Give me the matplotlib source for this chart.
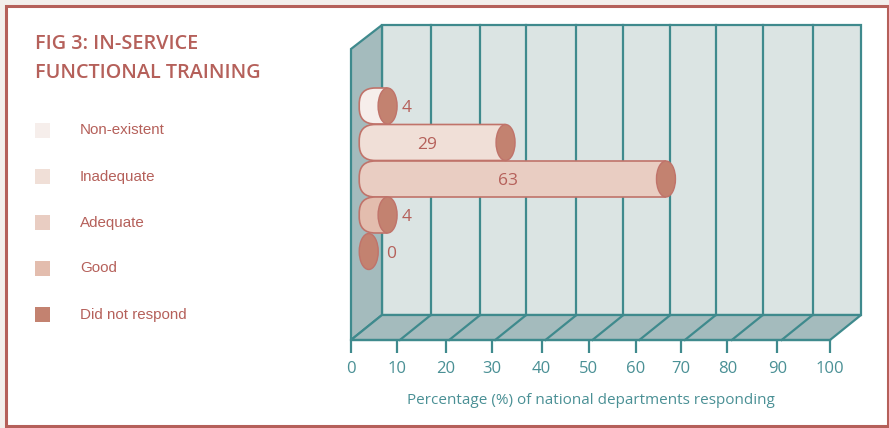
import matplotlib.pyplot as plt
from matplotlib.patches import Polygon, Ellipse, Rectangle, PathPatch
from matplotlib.path import Path

W, H = 889, 428

# Responses, in the order they stack from the back wall down
categories = ['Non-existent', 'Inadequate', 'Adequate', 'Good', 'Did not respond']
percentages = [4, 29, 63, 4, 0]
value_labels = ['4', '29', '63', '4', '0']
bar_colors = ['#f6eeeb', '#f0dfd7', '#e9cdc2', '#e3bdae', '#c38270']
label_gap = [0.9, 0, 0, 0.9, 1.7]

tick_labels = ['0', '10', '20', '30', '40', '50', '60', '70', '80', '90', '100']
tick_pos = [0, 9.6, 19.8, 29.4, 39.8, 49.6, 59.5, 68.9, 78.6, 89.0, 100]
grid_pos = [10.2, 20.5, 30.1, 40.6, 50.4, 60.2, 69.7, 79.5, 89.9]

RED = '#b5605a'
BAR_EDGE = '#c0736a'
TEAL = '#3f8a8d'
TEAL_TEXT = '#4a9095'
SIDE = '#a4bbbd'
BACK = '#dbe4e3'
END_CAP = '#c38270'

plt.rcParams['font.family'] = ['Open Sans', 'DejaVu Sans']

fig = plt.figure(figsize=(W / 100, H / 100), dpi=100, facecolor='#f3efec')

# page panel, whole figure in pixel coordinates
page = fig.add_axes([0, 0, 1, 1])
page.set_xlim(0, W)
page.set_ylim(H, 0)
page.axis('off')
page.add_patch(Rectangle((6, 6), 881.5, 420, fc='white', ec=RED, lw=2.2))

page.text(35, 43.5, 'FIG 3: IN-SERVICE', color=RED, fontsize=14.3, fontweight='semibold', va='center')
page.text(35, 72.5, 'FUNCTIONAL TRAINING', color=RED, fontsize=14.3, fontweight='semibold', va='center')

legend_y = [130, 176, 222, 268, 314]
for y, name, c in zip(legend_y, categories, bar_colors):
    page.add_patch(Rectangle((35, y - 7.5), 15, 15, fc=c, ec='none'))
    page.text(80, y + 0.5, name, color=RED, fontsize=10.9, family=['Liberation Sans', 'DejaVu Sans'], va='center')

# percent axis along the front edge of the floor
x0, x1, y_front, y_top = 351, 830, 340, 49
ax = fig.add_axes([x0 / W, 1 - y_front / H, (x1 - x0) / W, (y_front - y_top) / H])
ax.set_xlim(0, 100)
ax.set_ylim(y_front, y_top)
ax.patch.set_visible(False)
for s in ['top', 'left', 'right']:
    ax.spines[s].set_visible(False)
ax.spines['bottom'].set_color(TEAL)
ax.spines['bottom'].set_linewidth(1.6)
ax.set_yticks([])
ax.set_xticks(tick_pos)
ax.set_xticklabels(tick_labels, color=TEAL_TEXT, fontsize=12)
ax.tick_params(axis='x', color=TEAL, width=1.6, length=9, pad=6)
ax.set_xlabel('Percentage (%) of national departments responding', color=TEAL_TEXT, fontsize=10.95, labelpad=12)

per_pct = (x1 - x0) / 100
dx = 31 / per_pct   # wall depth in percent units
y_back = 315
y_roof = 25


def wall(points, face):
    ax.add_patch(Polygon(points, closed=True, fc=face, ec=TEAL, lw=1.6, clip_on=False, joinstyle='miter'))


# back wall, side wall and floor
wall([(dx, y_back), (dx, y_roof), (100 + dx, y_roof), (100 + dx, y_back)], BACK)
wall([(0, y_front), (0, y_top), (dx, y_roof), (dx, y_back)], SIDE)
wall([(0, y_front), (dx, y_back), (100 + dx, y_back), (100, y_front)], SIDE)

for p in grid_pos:
    ax.plot([p + dx, p + dx], [y_roof, y_back], color=TEAL, lw=1.6, clip_on=False)
    ax.plot([p, p + dx], [y_front, y_back], color=TEAL, lw=1.6, clip_on=False)


def cylinder_body(left, right, y, h, rnd_x, rnd_y):
    # flat at the right where the end cap sits, rounded corners on the left
    top, bot = y - h / 2, y + h / 2
    verts = [(right, top), (left + rnd_x, top), (left, top), (left, top + rnd_y),
             (left, bot - rnd_y), (left, bot), (left + rnd_x, bot), (right, bot)]
    codes = [Path.MOVETO, Path.LINETO, Path.CURVE3, Path.CURVE3,
             Path.LINETO, Path.CURVE3, Path.CURVE3, Path.LINETO]
    return Path(verts, codes)


# cylinders
bar_start = 3.7
bar_scale = 0.985
bar_y = [106, 142.5, 179, 215, 251.5]
bar_h = 36
rx = 9.5 / per_pct
for v, y, c, lab, gap in zip(percentages, bar_y, bar_colors, value_labels, label_gap):
    end = bar_start + v * bar_scale
    if v > 0:
        path = cylinder_body(bar_start - rx, end, y, bar_h, 16 / per_pct, 16)
        ax.add_patch(PathPatch(path, fc=c, ec=BAR_EDGE, lw=1.2, clip_on=False, zorder=3))
    ax.add_patch(Ellipse((end, y), rx * 2, bar_h, fc=END_CAP, ec=BAR_EDGE, lw=1.0, clip_on=False, zorder=4))
    if v > 10:
        ax.text(bar_start + v * bar_scale * 0.5 - 2, y + 2.5, lab, color=RED, fontsize=12.5, ha='center', va='center', zorder=5)
    else:
        ax.text(end + rx + gap, y + 2.5, lab, color=RED, fontsize=12.5, ha='left', va='center', zorder=5)

fig.savefig('out.png', dpi=100, facecolor=fig.get_facecolor())
